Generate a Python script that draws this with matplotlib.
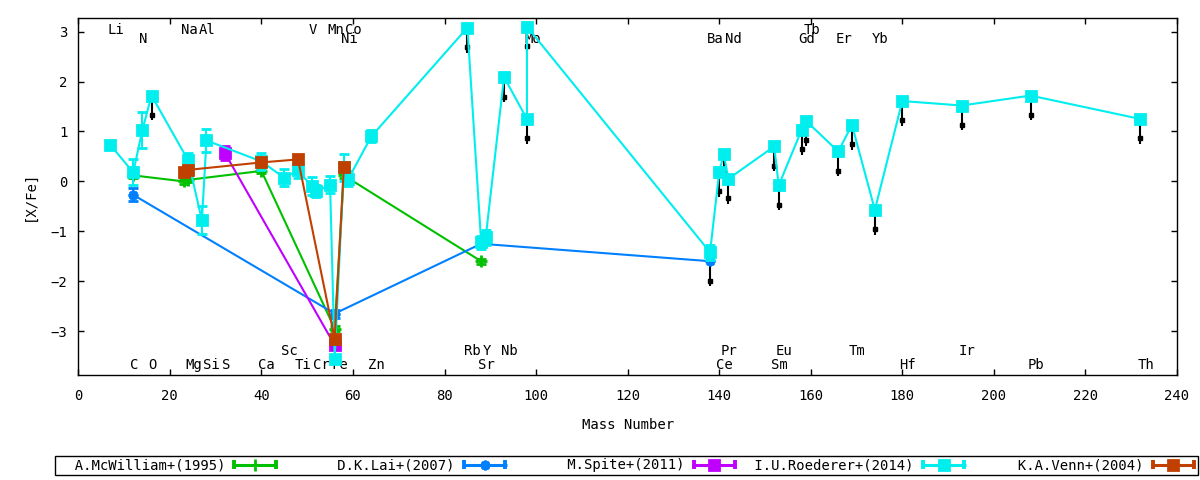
import numpy as np
import matplotlib
matplotlib.use("Agg")
import matplotlib.pyplot as plt
from matplotlib.lines import Line2D
from matplotlib.legend_handler import HandlerBase

nan = np.nan

# ---------------- data ----------------
# element labels: name, mass number, row (0=top upper, 1=top lower, 2=bottom upper, 3=bottom lower)
label_names = ['Li', 'Na', 'Al', 'V', 'Mn', 'Co', 'Tb',
               'N', 'Ni', 'Mo', 'Ba', 'Nd', 'Gd', 'Er', 'Yb',
               'Sc', 'Rb', 'Y', 'Nb', 'Pr', 'Eu', 'Tm', 'Ir',
               'C', 'O', 'Mg', 'Si', 'S', 'Ca', 'Ti', 'Cr', 'Fe', 'Zn', 'Sr', 'Ce', 'Sm', 'Hf', 'Pb', 'Th']
label_masses = [7, 23, 27, 51, 55, 59, 159,
                14, 58, 98, 138, 142, 158, 166, 174,
                45, 85, 89, 93, 141, 153, 169, 193,
                12, 16, 24, 28, 32, 40, 48, 52, 56, 64, 88, 140, 152, 180, 208, 232]
label_rows = [0] * 7 + [1] * 8 + [2] * 8 + [3] * 16

series_names = ['A.McWilliam+(1995)', 'D.K.Lai+(2007)', 'M.Spite+(2011)',
                'I.U.Roederer+(2014)', 'K.A.Venn+(2004)']

mcw_mass = [12, 23, 24, 40, 56, 58, 88]
mcw_val = [0.12, 0.00, 0.03, 0.21, -2.95, 0.12, -1.60]
mcw_err = [0.05, 0.05, 0.05, 0.05, 0.05, 0.05, 0.05]

lai_mass = [12, 56, 88, 138]
lai_val = [-0.27, -2.65, -1.25, -1.60]
lai_err = [0.13, 0.08, nan, nan]
lai_ul = [False, False, False, True]

spite_mass = [32, 56]
spite_val = [0.57, -3.28]
spite_err = [0.14, 0.05]

roe_mass = [7, 12, 14, 16, 24, 27, 28, 40, 45, 48, 51, 52, 55, 56, 58, 59, 64,
            85, 88, 89, 93, 98, 98, 138, 140, 141, 142, 152, 153, 158, 159,
            166, 169, 174, 180, 193, 208, 232]
roe_val = [0.73, 0.18, 1.03, 1.72, 0.42, -0.78, 0.82, 0.40, 0.07, 0.22, -0.10, -0.20, -0.07, -3.55, 0.28, 0.05, 0.90,
           3.08, -1.22, -1.12, 2.09, 1.25, 3.10, -1.42, 0.19, 0.55, 0.05, 0.70, -0.08, 1.03, 1.21,
           0.60, 1.13, -0.57, 1.61, 1.52, 1.72, 1.25]
roe_err = [nan, 0.26, 0.37, nan, 0.15, 0.28, 0.23, 0.17, 0.17, 0.15, 0.18, 0.12, 0.17, 0.08, 0.27, 0.15, 0.12,
           nan, 0.13, 0.15, nan, nan, nan, 0.15, nan, nan, nan, nan, nan, nan, nan,
           nan, nan, nan, nan, nan, nan, nan]
roe_ul = [False, False, False, True, False, False, False, False, False, False, False, False, False, False, False, False, False,
          True, False, False, True, True, True, False, True, True, True, True, True, True, True,
          True, True, True, True, True, True, True]

venn_mass = [23, 24, 40, 48, 56, 58]
venn_val = [0.18, 0.23, 0.38, 0.44, -3.15, 0.28]
venn_err = [0.05, 0.05, 0.05, 0.05, 0.05, 0.05]

ul_length = 0.5

# ---------------- style ----------------
FONT = 'DejaVu Sans Mono'
FS = 10
plt.rcParams['font.family'] = FONT
plt.rcParams['font.size'] = FS

c_green = '#00c000'
c_blue = '#0080ff'
c_mag = '#c000ff'
c_cyan = '#00eeee'
c_brown = '#c04000'

W, H = 1200, 480
fig = plt.figure(figsize=(W / 100, H / 100), dpi=100)
L, R, T, B = 78.3, 1177, 17.7, 375
ax = fig.add_axes([L / W, 1 - B / H, (R - L) / W, (B - T) / H])
ax.set_xlim(0, 240)
ax.set_ylim(-3.88, 3.28)
ax.set_xticks(np.arange(0, 241, 20))
ax.set_yticks(np.arange(-3, 4, 1))
ax.tick_params(direction='in', length=4, width=1, top=True, right=True, pad=8, labelsize=FS)
ax.tick_params(axis='x', pad=10)
for s in ax.spines.values():
    s.set_linewidth(1.0)
ax.set_xlabel('Mass Number', labelpad=11)
ax.set_ylabel('[X/Fe]', labelpad=10)

# element labels
row_y = [2.95, 2.77, -3.47, -3.75]
for name, m, r in zip(label_names, label_masses, label_rows):
    ax.annotate(name, (m, row_y[r]), xytext=(-2.2, 0), textcoords='offset points',
                ha='left', va='baseline', fontsize=FS, zorder=1, annotation_clip=False)


def draw_series(mass, val, err, color, marker, ms, z, mfc=None):
    ax.errorbar(mass, val, yerr=err, color=color, lw=1.5, marker=marker, ms=ms,
                mew=2, mfc=mfc if mfc else color, mec=color,
                capsize=3.3, capthick=2, elinewidth=1.5, zorder=z)


def draw_ul(mass, val, flags, z):
    for m, v, f in zip(mass, val, flags):
        if f:
            ax.plot([m, m], [v, v - ul_length], color='black', lw=1.5, zorder=z,
                    solid_capstyle='butt')
            ax.plot([m], [v - ul_length + 0.11], marker='s', ms=3.4, color='black', zorder=z)


draw_ul(lai_mass, lai_val, lai_ul, 2)
draw_ul(roe_mass, roe_val, roe_ul, 2)

draw_series(mcw_mass, mcw_val, mcw_err, c_green, '+', 8, 3)
draw_series(lai_mass, lai_val, lai_err, c_blue, (8, 2, 0), 7, 4)
draw_series(spite_mass, spite_val, spite_err, c_mag, 's', 7, 5)
draw_series(roe_mass, roe_val, roe_err, c_cyan, 's', 7, 6)
draw_series(venn_mass, venn_val, venn_err, c_brown, 's', 7, 7)


# ---------------- legend ----------------
class ErrKey:
    def __init__(self, color, marker, ms):
        self.color = color
        self.marker = marker
        self.ms = ms


class HandlerErrKey(HandlerBase):
    def create_artists(self, legend, orig, xdescent, ydescent, width, height, fontsize, trans):
        x0 = -xdescent
        x1 = -xdescent + width
        yc = -ydescent + height / 2
        ch = 3.2
        arts = [
            Line2D([x0, x1], [yc, yc], color=orig.color, lw=2.2, solid_capstyle='butt'),
            Line2D([x0 + 1.0, x0 + 1.0], [yc - ch, yc + ch], color=orig.color, lw=2.8, solid_capstyle='butt'),
            Line2D([x1 - 1.0, x1 - 1.0], [yc - ch, yc + ch], color=orig.color, lw=2.8, solid_capstyle='butt'),
            Line2D([(x0 + x1) / 2], [yc], marker=orig.marker, ms=orig.ms, mew=2,
                   color=orig.color, mfc=orig.color, mec=orig.color, linestyle='none'),
        ]
        for a in arts:
            a.set_transform(trans)
        return arts


handles = [ErrKey(c_green, '+', 8), ErrKey(c_blue, (8, 2, 0), 7), ErrKey(c_mag, 's', 7),
           ErrKey(c_cyan, 's', 7), ErrKey(c_brown, 's', 7)]
labels = [s.rjust(20) for s in series_names]
leg = fig.legend(handles, labels, handler_map={ErrKey: HandlerErrKey()},
                 loc='center', bbox_to_anchor=(626.5 / W, 1 - 465.5 / H), ncol=5,
                 markerfirst=False, handlelength=3.17, handletextpad=0.58,
                 columnspacing=0.72, borderpad=0.15, borderaxespad=0,
                 frameon=True, fancybox=False, edgecolor='black', framealpha=1,
                 prop={'family': FONT, 'size': FS})
leg.get_frame().set_linewidth(1.0)

fig.savefig('out.png', dpi=100)
